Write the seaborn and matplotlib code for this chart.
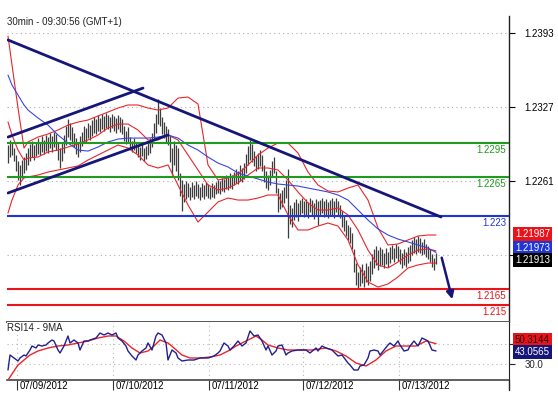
import numpy as np
import pandas as pd
import matplotlib
matplotlib.use("Agg")
import matplotlib.pyplot as plt
import seaborn as sns
from matplotlib.lines import Line2D

sns.set_style("white")
plt.rcParams['font.family'] = ['Liberation Sans', 'DejaVu Sans']

# ---------------- data ----------------
title = "30min - 09:30:56 (GMT+1)"
rsi_title = "RSI14 - 9MA"

highs = [1.2293, 1.2298, 1.2296, 1.2290,
         1.2284, 1.2279, 1.2275, 1.2280, 1.2282, 1.2286,
         1.2290, 1.2294, 1.2297, 1.2293, 1.2296,
         1.2299, 1.2296, 1.2301, 1.2298, 1.2302, 1.2300, 1.2304, 1.2301, 1.2305, 1.2303,
         1.2296, 1.2290, 1.2295,
         1.2302, 1.2310, 1.2316, 1.2313, 1.2309,
         1.2304, 1.2299, 1.2296, 1.2301, 1.2305,
         1.2310, 1.2308, 1.2313, 1.2311, 1.2315,
         1.2318, 1.2316, 1.2320, 1.2317, 1.2321, 1.2319, 1.2322, 1.2320, 1.2318, 1.2321,
         1.2319, 1.2317, 1.2320, 1.2318, 1.2316,
         1.2310, 1.2306, 1.2309,
         1.2300, 1.2297, 1.2299, 1.2296,
         1.2293, 1.2291, 1.2294, 1.2290, 1.2292, 1.2295,
         1.2299, 1.2304,
         1.2313, 1.2321, 1.2334, 1.2326,
         1.2318, 1.2314, 1.2310, 1.2307,
         1.2302, 1.2290,
         1.2297, 1.2293, 1.2290,
         1.2268, 1.2262, 1.2258, 1.2261,
         1.2259, 1.2256, 1.2260, 1.2257, 1.2261, 1.2258, 1.2256, 1.2259, 1.2257, 1.2260,
         1.2258, 1.2256, 1.2259, 1.2257, 1.2260, 1.2262, 1.2261, 1.2264, 1.2263, 1.2266,
         1.2265, 1.2268, 1.2266, 1.2269,
         1.2272, 1.2270, 1.2275, 1.2273, 1.2277,
         1.2285, 1.2292, 1.2298, 1.2294,
         1.2288, 1.2283, 1.2286, 1.2289, 1.2284,
         1.2275, 1.2270, 1.2266, 1.2271,
         1.2279, 1.2282,
         1.2270, 1.2255, 1.2250, 1.2253, 1.2256,
         1.2262,
         1.2272,
         1.2240, 1.2237, 1.2242, 1.2245, 1.2241,
         1.2244, 1.2246, 1.2243, 1.2245, 1.2242, 1.2246, 1.2244, 1.2241, 1.2245,
         1.2243, 1.2244, 1.2246, 1.2243, 1.2245, 1.2242, 1.2244, 1.2246, 1.2243,
         1.2246, 1.2243, 1.2240,
         1.2234, 1.2230,
         1.2226, 1.2222, 1.2220, 1.2215,
         1.2200, 1.2188, 1.2180,
         1.2184, 1.2187, 1.2182, 1.2188, 1.2185, 1.2190,
         1.2196, 1.2200, 1.2203, 1.2199, 1.2202,
         1.2200, 1.2197, 1.2201, 1.2198, 1.2202,
         1.2204, 1.2201, 1.2205, 1.2203, 1.2200,
         1.2197, 1.2200, 1.2198, 1.2202, 1.2204,
         1.2208, 1.2211, 1.2209, 1.2212, 1.2210, 1.2207, 1.2209,
         1.2205, 1.2203, 1.2200,
         1.2196, 1.2192, 1.2197]

lows = [1.2277, 1.2282, 1.2284, 1.2279,
        1.2270, 1.2262, 1.2257, 1.2264, 1.2268, 1.2271,
        1.2275, 1.2279, 1.2282, 1.2280, 1.2283,
        1.2285, 1.2284, 1.2287, 1.2285, 1.2288, 1.2286, 1.2290, 1.2287, 1.2291, 1.2289,
        1.2280, 1.2273, 1.2279,
        1.2286, 1.2293, 1.2300, 1.2298, 1.2294,
        1.2291, 1.2285, 1.2282, 1.2287, 1.2292,
        1.2296, 1.2295, 1.2299, 1.2298, 1.2301,
        1.2304, 1.2303, 1.2306, 1.2305, 1.2307, 1.2306, 1.2308, 1.2307, 1.2305, 1.2308,
        1.2306, 1.2304, 1.2307, 1.2305, 1.2303,
        1.2297, 1.2294, 1.2296,
        1.2290, 1.2287, 1.2289, 1.2286,
        1.2282, 1.2280, 1.2283, 1.2279, 1.2281, 1.2284,
        1.2286, 1.2291,
        1.2298, 1.2304, 1.2312, 1.2310,
        1.2303, 1.2299, 1.2295, 1.2293,
        1.2278, 1.2266,
        1.2275, 1.2270, 1.2262,
        1.2248, 1.2234, 1.2242, 1.2245,
        1.2247, 1.2244, 1.2247, 1.2245, 1.2248, 1.2246, 1.2244, 1.2247, 1.2245, 1.2248,
        1.2246, 1.2245, 1.2247, 1.2246, 1.2249, 1.2250, 1.2249, 1.2252, 1.2251, 1.2254,
        1.2253, 1.2255, 1.2254, 1.2257,
        1.2259, 1.2258, 1.2261, 1.2260, 1.2263,
        1.2268, 1.2275, 1.2280, 1.2278,
        1.2274, 1.2270, 1.2272, 1.2274, 1.2270,
        1.2260, 1.2255, 1.2253, 1.2257,
        1.2265, 1.2268,
        1.2250, 1.2233, 1.2236, 1.2238, 1.2241,
        1.2246,
        1.2210,
        1.2223, 1.2220, 1.2226, 1.2229, 1.2225,
        1.2230, 1.2232, 1.2229, 1.2231, 1.2228, 1.2233, 1.2230, 1.2227, 1.2231,
        1.2222, 1.2230, 1.2232, 1.2229, 1.2231, 1.2228, 1.2230, 1.2231, 1.2228,
        1.2233, 1.2230, 1.2228,
        1.2220, 1.2216,
        1.2212, 1.2208, 1.2206, 1.2200,
        1.2180, 1.2168, 1.2165,
        1.2167, 1.2170, 1.2166, 1.2171, 1.2168, 1.2172,
        1.2178, 1.2183, 1.2186, 1.2182, 1.2185,
        1.2186, 1.2183, 1.2187, 1.2184, 1.2188,
        1.2191, 1.2189, 1.2192, 1.2190, 1.2187,
        1.2183, 1.2186, 1.2184, 1.2188, 1.2190,
        1.2195, 1.2197, 1.2196, 1.2198, 1.2197, 1.2195, 1.2196,
        1.2193, 1.2191, 1.2189,
        1.2184, 1.2182, 1.2187]

last_close = 1.21913

date_labels = ["07/09/2012", "07/10/2012", "07/11/2012", "07/12/2012", "07/13/2012"]
day_start = [5, 53, 101, 148, 196]

band_idx = [0, 2, 5, 8, 10, 15, 20, 25, 30, 35, 40, 45, 50, 55, 60, 65, 70, 75, 80, 85,
            90, 95, 100, 105, 110, 115, 120, 125, 130, 135, 140, 145, 150, 155, 160, 165,
            170, 175, 180, 185, 190, 195, 200, 205, 210, 214]
bb_upper = [1.23903, 1.23645, 1.23261, 1.22904, 1.22958, 1.23002, 1.23029, 1.23065, 1.23109,
            1.23136, 1.23154, 1.23190, 1.23225, 1.23261, 1.23288, 1.23288, 1.23261, 1.23243,
            1.23261, 1.23350, 1.23359, 1.23297, 1.22753, 1.22619, 1.22637, 1.22672, 1.22753,
            1.22842, 1.22904, 1.22949, 1.22949, 1.22860, 1.22690, 1.22574, 1.22521, 1.22512,
            1.22547, 1.22574, 1.22440, 1.22191, 1.22039, 1.22048, 1.22084, 1.22119, 1.22128,
            1.22128]
bb_mid = [1.23136, 1.23020, 1.22886, 1.22797, 1.22815, 1.22824, 1.22869, 1.22886, 1.22913,
          1.22940, 1.22976, 1.23020, 1.23083, 1.23118, 1.23118, 1.23065, 1.22976, 1.22976,
          1.23020, 1.22976, 1.22842, 1.22708, 1.22574, 1.22530, 1.22547, 1.22592, 1.22663,
          1.22726, 1.22726, 1.22708, 1.22619, 1.22512, 1.22414, 1.22351, 1.22351, 1.22369,
          1.22307, 1.22173, 1.21994, 1.21861, 1.21834, 1.21887, 1.21950, 1.21994, 1.22003,
          1.21987]
bb_lower = [1.22324, 1.22440, 1.22574, 1.22637, 1.22646, 1.22663, 1.22690, 1.22708, 1.22726,
            1.22744, 1.22797, 1.22842, 1.22886, 1.22931, 1.22904, 1.22842, 1.22753, 1.22726,
            1.22753, 1.22574, 1.22396, 1.22244, 1.22333, 1.22423, 1.22458, 1.22440, 1.22440,
            1.22458, 1.22485, 1.22485, 1.22307, 1.22173, 1.22173, 1.22208, 1.22235, 1.22208,
            1.22084, 1.21861, 1.21709, 1.21664, 1.21691, 1.21754, 1.21834, 1.21861, 1.21878,
            1.21878]
ma_blue = [1.23555, 1.23466, 1.23377, 1.23288, 1.23243, 1.23172, 1.23109, 1.23020, 1.22949,
           1.22886, 1.22877, 1.22913, 1.22958, 1.22984, 1.22993, 1.22993, 1.22993, 1.23002,
           1.23020, 1.22993, 1.22931, 1.22886, 1.22824, 1.22770, 1.22735, 1.22681, 1.22654,
           1.22628, 1.22601, 1.22583, 1.22574, 1.22565, 1.22547, 1.22530, 1.22512, 1.22485,
           1.22440, 1.22351, 1.22262, 1.22182, 1.22128, 1.22092, 1.22066, 1.22039, 1.22012,
           1.21973]

levels = [1.2295, 1.2265, 1.223, 1.2165, 1.215]
level_labels = ["1.2295", "1.2265", "1.223", "1.2165", "1.215"]
level_colors = ["#1f9b1f", "#1f9b1f", "#1f35d8", "#e8141a", "#e8141a"]

trend_down_x, trend_down_y = [0, 216.5], [1.23868, 1.22289]
chan_up_x, chan_up_y = [0, 67.5], [1.23002, 1.23439]
chan_low_x, chan_low_y = [0, 80], [1.22503, 1.23020]
arrow_x, arrow_y = [216.5, 222.5], [1.21950, 1.21531]

price_ticks = [1.2393, 1.2327, 1.2261, 1.2195]
price_tick_labels = ["1.2393", "1.2327", "1.2261", ""]

rsi_idx = [0, 1, 3, 5, 6, 8, 9, 11, 12, 14, 15, 17, 19, 20, 22, 23, 25, 26, 28, 30, 31, 33,
           35, 36, 38, 40, 41, 44, 46, 48, 50, 52, 54, 55, 57, 59, 60, 62, 64, 65, 67, 69, 70,
           72, 74, 75, 77, 79, 80, 82, 84, 85, 87, 90, 93, 96, 100, 103, 105, 106, 108, 110,
           111, 113, 115, 117, 119, 121, 123, 125, 127, 129, 130, 132, 134, 135, 137, 139,
           140, 142, 145, 149, 151, 154, 155, 157, 159, 162, 165, 167, 170, 171, 173, 175,
           176, 178, 180, 181, 183, 185, 186, 188, 190, 191, 193, 195, 196, 198, 200, 201,
           203, 205, 207, 209, 210, 212, 214]
rsi_vals = [24, 39, 36, 33, 36, 39, 38, 44, 48, 46, 49, 48, 49, 51, 54, 53, 44, 41, 48, 58,
            51, 54, 51, 44, 53, 53, 54, 56, 61, 59, 61, 59, 61, 56, 53, 48, 43, 38, 34, 39,
            43, 46, 51, 44, 58, 61, 59, 51, 34, 44, 41, 36, 33, 34, 34, 36, 36, 38, 41, 43,
            51, 48, 44, 48, 53, 48, 51, 63, 58, 59, 53, 44, 48, 39, 43, 48, 49, 39, 41, 43,
            44, 44, 41, 46, 43, 48, 46, 44, 38, 39, 31, 29, 24, 24, 28, 29, 36, 43, 44, 43,
            39, 44, 49, 51, 48, 53, 49, 43, 44, 48, 53, 48, 56, 54, 53, 44, 43.0565]
rsima_idx = [0, 3, 5, 8, 11, 15, 20, 25, 30, 35, 40, 45, 50, 54, 58, 62, 66, 70, 73, 76, 80,
             83, 87, 91, 96, 101, 106, 111, 114, 119, 124, 127, 130, 135, 140, 145, 152, 159,
             164, 169, 174, 179, 184, 189, 194, 199, 204, 209, 214]
rsima_vals = [14, 23, 29, 34, 39, 43, 46, 48, 49, 51, 53, 56, 58, 58, 53, 46, 41, 43, 48, 54,
              51, 46, 39, 36, 36, 37, 39, 44, 48, 53, 58, 54, 49, 46, 44, 44, 44, 46, 43, 38,
              31, 28, 34, 43, 48, 48, 48, 53, 50.3144]
rsi_ticks = [30, 50]
rsi_tick_labels = ["30.0", ""]

# ---------------- figure ----------------
W, H = 558, 393
fig = plt.figure(figsize=(W / 100, H / 100), dpi=100)
fig.patch.set_facecolor("white")


def fx(px):
    return px / W


def fy(py):
    return 1 - py / H


ax = fig.add_axes([fx(7), fy(322), fx(502), 306 / H])
axr = fig.add_axes([fx(7), fy(380), fx(502), 58 / H], sharex=ax)

red = "#e8262c"
blue_ma = "#3a45e0"
navy = "#16167a"

# price bars
idx = np.arange(len(highs))
ax.vlines(idx, lows, highs, color="#3c3c3c", lw=0.9, zorder=3)

# bands and moving average
sns.lineplot(x=band_idx, y=bb_upper, ax=ax, color=red, lw=0.8, zorder=4)
sns.lineplot(x=band_idx, y=bb_mid, ax=ax, color=red, lw=0.8, zorder=4)
sns.lineplot(x=band_idx, y=bb_lower, ax=ax, color=red, lw=0.8, zorder=4)
sns.lineplot(x=band_idx, y=ma_blue, ax=ax, color=blue_ma, lw=0.8, zorder=4)

# horizontal levels
for lv, lab, col in zip(levels, level_labels, level_colors):
    ax.axhline(lv, color=col, lw=1.5, zorder=5)
    ax.annotate(lab, xy=(1, lv), xycoords=ax.get_yaxis_transform(),
                xytext=(-3, -7), textcoords="offset pixels", ha="right", va="center",
                color=col, fontsize=7)

# trend lines
ax.plot(trend_down_x, trend_down_y, color=navy, lw=2.0, zorder=6, solid_capstyle="round")
ax.plot(chan_up_x, chan_up_y, color=navy, lw=2.0, zorder=6)
ax.plot(chan_low_x, chan_low_y, color=navy, lw=2.0, zorder=6)
ax.annotate("", xy=(arrow_x[1], arrow_y[1]), xytext=(arrow_x[0], arrow_y[0]),
            arrowprops=dict(arrowstyle="-|>", color=navy, lw=1.8, mutation_scale=11),
            zorder=7)

ax.set_xlim(-0.5, 250.5)
ax.set_ylim(1.21352, 1.24082)
ax.yaxis.tick_right()
ax.set_yticks(price_ticks)
ax.set_yticklabels(price_tick_labels)
ax.tick_params(axis="y", right=True, length=4, width=0.8, pad=7, labelsize=7,
               colors="black")
ax.tick_params(axis="x", bottom=False, labelbottom=False)
ax.grid(axis="y", ls=(0, (1, 3)), color="#b0b0b0", lw=0.8)
ax.grid(axis="x", visible=False)
for s in ["left", "top"]:
    ax.spines[s].set_visible(False)
ax.spines["right"].set_color("#222222")
ax.spines["right"].set_linewidth(1.0)
ax.spines["bottom"].set_color("#555555")
ax.spines["bottom"].set_linewidth(1.4)
ax.set_xlabel("")
ax.set_ylabel("")

# RSI panel
sns.lineplot(x=rsima_idx, y=rsima_vals, ax=axr, color=red, lw=1.0, zorder=4)
sns.lineplot(x=rsi_idx, y=rsi_vals, ax=axr, color="#202090", lw=1.0, zorder=5)
axr.set_ylim(14, 72)
axr.yaxis.tick_right()
axr.set_yticks(rsi_ticks)
axr.set_yticklabels(rsi_tick_labels)
axr.tick_params(axis="y", right=True, length=4, width=0.8, pad=7, labelsize=7)
day_pos = [d - 0.5 for d in day_start]
axr.set_xticks(day_pos)
axr.tick_params(axis="x", bottom=True, length=7, width=0.8, direction="out",
                color="#333333", labelbottom=False)
axr.grid(True, ls=(0, (1, 3)), color="#b8b8b8", lw=0.8)
for s in ["left", "top"]:
    axr.spines[s].set_visible(False)
axr.spines["right"].set_color("#222222")
axr.spines["bottom"].set_color("#444444")
axr.spines["bottom"].set_linewidth(1.2)
axr.set_xlabel("")
axr.set_ylabel("")
for pos, lab in zip(day_pos, date_labels):
    axr.annotate(lab, xy=(pos, 0), xycoords=("data", "axes fraction"),
                 xytext=(3, -6), textcoords="offset pixels", ha="left", va="center",
                 fontsize=7, color="black")

# right spine extension below the panel
fig.add_artist(Line2D([fx(509), fx(509)], [fy(390), fy(380)], transform=fig.transFigure,
                      color="#222222", lw=1.0))

# titles
fig.text(fx(7), fy(22), title, fontsize=7, ha="left", va="center", color="#222222")
fig.text(fx(7), fy(328), rsi_title, fontsize=7, ha="left", va="center", color="#222222")

# value boxes on the right
def value_box(py, txt, fc, tc, style="square,pad=0.25"):
    fig.text(fx(515), fy(py), txt, fontsize=7, ha="left", va="center", color=tc,
             bbox=dict(boxstyle=style, fc=fc, ec="none"))


value_box(234, f"{bb_mid[-1]:.5f}", "#e8141a", "white")
value_box(248, f"{ma_blue[-1]:.5f}", "#1f35d8", "white")
value_box(260, f"{last_close:.5f}", "black", "white")
value_box(340, f"{rsima_vals[-1]:.4f}", "#e8141a", "#220000")
value_box(352, f"{rsi_vals[-1]:.4f}", "#16167a", "white")

fig.savefig("out.png", dpi=100, facecolor="white")
